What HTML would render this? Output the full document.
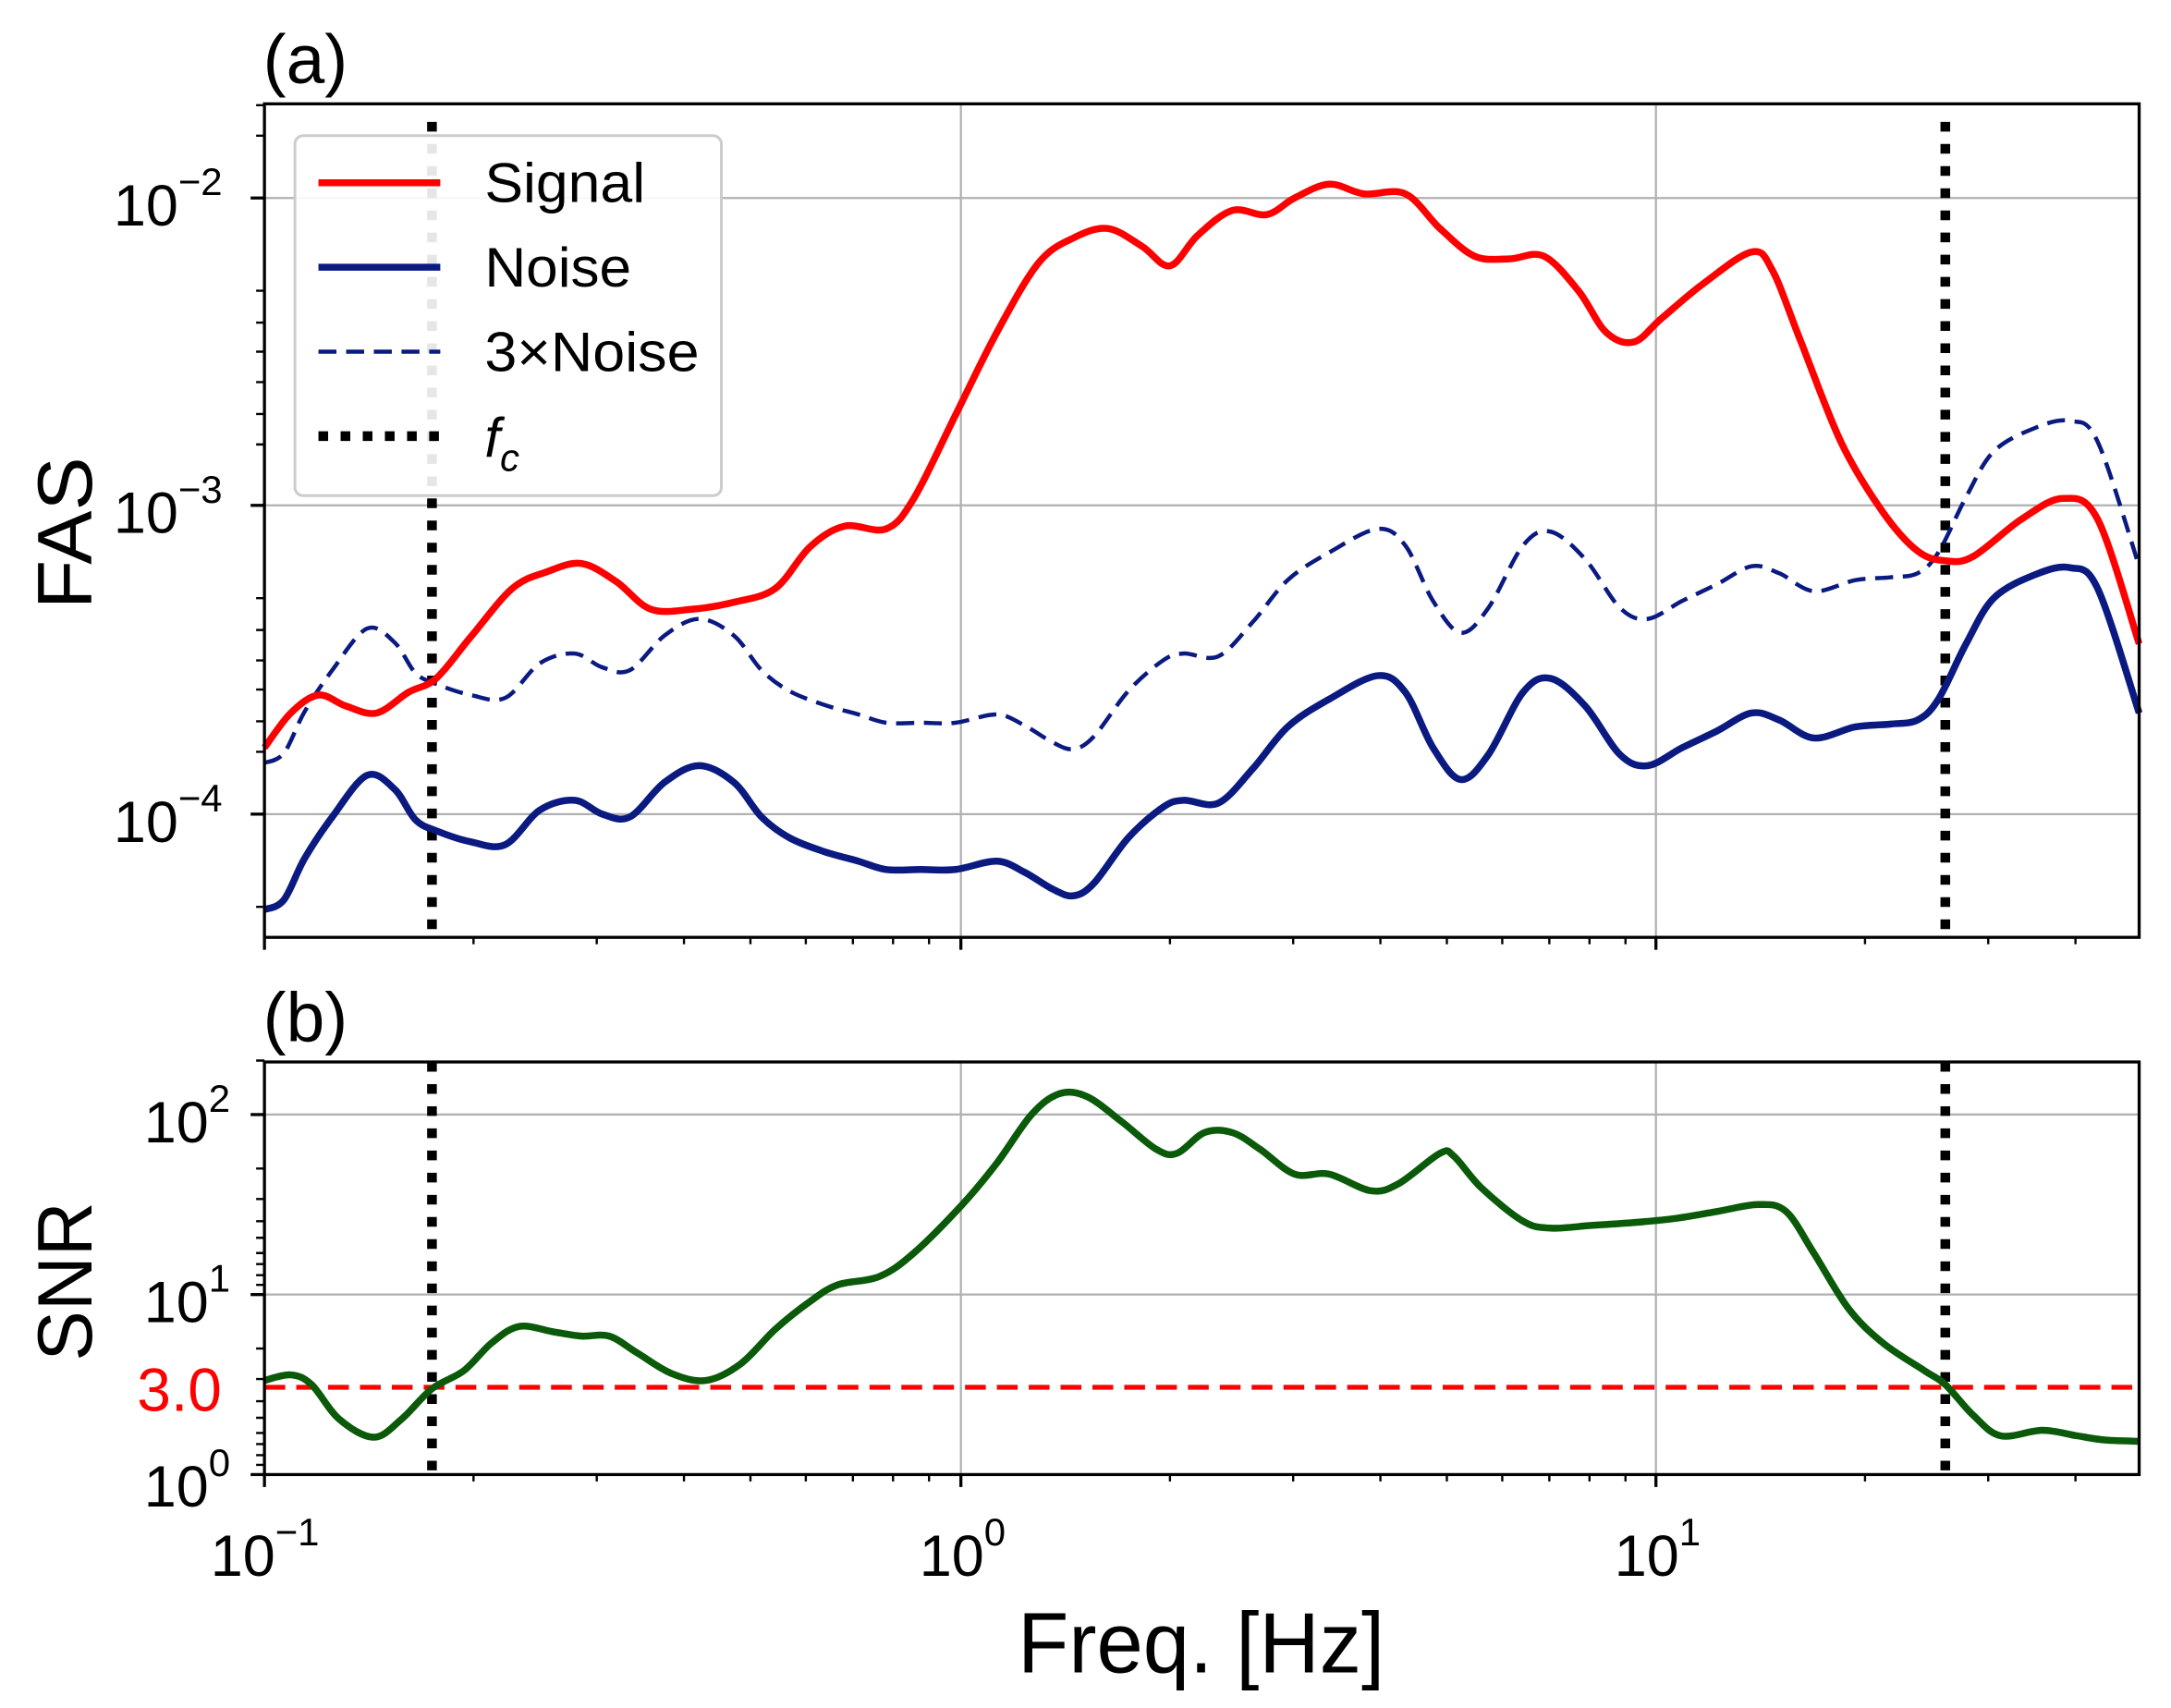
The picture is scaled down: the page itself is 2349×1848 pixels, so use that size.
<!DOCTYPE html>
<html><head><meta charset="utf-8"><style>html,body{margin:0;padding:0;background:#fff}svg{display:block}</style></head><body>
<svg id="s" width="2349" height="1848" viewBox="0 0 1568 1233.6" preserveAspectRatio="none" xmlns="http://www.w3.org/2000/svg" font-family="Liberation Sans, sans-serif">
<rect width="1568" height="1234" fill="#fff"/>
<g stroke="#b0b0b0" stroke-width="1.5">
<line x1="694" y1="75" x2="694" y2="677"/><line x1="1196" y1="75" x2="1196" y2="677"/>
<line x1="191" y1="143" x2="1545" y2="143"/><line x1="191" y1="365" x2="1545" y2="365"/><line x1="191" y1="588" x2="1545" y2="588"/>
<line x1="694" y1="767" x2="694" y2="1065"/><line x1="1196" y1="767" x2="1196" y2="1065"/>
<line x1="191" y1="805" x2="1545" y2="805"/><line x1="191" y1="935" x2="1545" y2="935"/>
</g>
<g stroke="#000" stroke-width="7" stroke-dasharray="7,9">
<line x1="312" y1="88" x2="312" y2="677"/><line x1="1405" y1="88" x2="1405" y2="677"/>
<line x1="312" y1="767" x2="312" y2="1065"/><line x1="1405" y1="767" x2="1405" y2="1065"/>
</g>
<polyline class="sm" transform="translate(0,-106)" fill="none" stroke="#0a1a80" stroke-width="3" stroke-dasharray="13,7" stroke-linejoin="round" points="191,657 205,650 220,620 240,590 265,560 285,570 300,592 315,600 340,608 365,610 390,585 415,578 435,588 455,590 480,565 505,553 530,565 550,590 570,605 595,615 620,622 640,628 665,628 690,628 720,622 740,630 760,642 775,647 790,638 815,605 840,583 855,578 880,580 905,555 930,525 960,505 995,488 1015,500 1035,540 1055,563 1075,545 1100,500 1120,490 1145,510 1170,545 1190,553 1215,540 1240,528 1265,515 1285,520 1310,533 1340,525 1365,523 1385,520 1400,505 1420,465 1440,432 1470,415 1495,410 1515,425 1545,515"/>
<polyline class="sm" fill="none" stroke="#0a1a80" stroke-width="5" stroke-linejoin="round" points="191,657 205,650 220,620 240,590 265,560 285,570 300,592 315,600 340,608 365,610 390,585 415,578 435,588 455,590 480,565 505,553 530,565 550,590 570,605 595,615 620,622 640,628 665,628 690,628 720,622 740,630 760,642 775,647 790,638 815,605 840,583 855,578 880,580 905,555 930,525 960,505 995,488 1015,500 1035,540 1055,563 1075,545 1100,500 1120,490 1145,510 1170,545 1190,553 1215,540 1240,528 1265,515 1285,520 1310,533 1340,525 1365,523 1385,520 1400,505 1420,465 1440,432 1470,415 1495,410 1515,425 1545,515"/>
<polyline class="sm" fill="none" stroke="#ff0000" stroke-width="5" stroke-linejoin="round" points="191,540 210,515 230,502 250,510 272,515 295,500 315,490 340,460 370,425 395,413 420,407 445,420 470,440 500,440 530,435 560,425 585,395 610,380 640,382 660,360 690,300 720,240 750,190 775,172 800,165 825,178 845,192 865,170 890,152 915,155 935,143 960,133 985,140 1015,140 1040,165 1065,185 1090,187 1115,185 1140,210 1160,240 1180,247 1200,230 1230,205 1265,182 1280,195 1300,245 1330,320 1360,370 1385,398 1405,405 1425,402 1460,375 1490,360 1515,375 1545,465"/>
<line x1="191" y1="1002" x2="1545" y2="1002" stroke="#ff0000" stroke-width="3.5" stroke-dasharray="15,8"/>
<polyline class="sm" fill="none" stroke="#0a5a0a" stroke-width="5" stroke-linejoin="round" points="191,997 210,993 225,1000 245,1025 270,1038 290,1025 312,1003 335,990 355,970 375,958 400,962 420,965 440,965 460,977 485,992 510,997 535,985 560,960 585,940 605,928 635,922 660,905 695,870 720,840 745,805 765,790 785,792 810,810 835,830 850,833 870,818 890,818 910,830 935,848 960,848 990,860 1010,855 1040,833 1050,835 1070,858 1100,882 1120,887 1150,885 1180,883 1210,880 1240,875 1270,870 1290,875 1310,905 1335,945 1360,970 1390,990 1405,1000 1425,1022 1445,1037 1475,1033 1500,1037 1520,1040 1545,1041"/>
<g fill="none" stroke="#000" stroke-width="2.2">
<rect x="191" y="75" width="1354" height="602"/>
<rect x="191" y="767" width="1354" height="298"/>
</g>
<g stroke="#000" stroke-width="2.2">
<line x1="191" y1="677" x2="191" y2="686"/><line x1="694" y1="677" x2="694" y2="686"/><line x1="1196" y1="677" x2="1196" y2="686"/>
<line x1="191" y1="1065" x2="191" y2="1074"/><line x1="694" y1="1065" x2="694" y2="1074"/><line x1="1196" y1="1065" x2="1196" y2="1074"/>
<line x1="181" y1="143" x2="191" y2="143"/><line x1="181" y1="365" x2="191" y2="365"/><line x1="181" y1="588" x2="191" y2="588"/>
<line x1="181" y1="805" x2="191" y2="805"/><line x1="181" y1="935" x2="191" y2="935"/><line x1="181" y1="1065" x2="191" y2="1065"/>
</g>
<g stroke="#000" stroke-width="1.6">
<path d="M342 677v5M431 677v5M494 677v5M542 677v5M582 677v5M616 677v5M645 677v5M671 677v5M845 677v5M934 677v5M997 677v5M1045 677v5M1085 677v5M1119 677v5M1148 677v5M1174 677v5M1347 677v5M1436 677v5M1499 677v5"/>
<path d="M342 1065v5M431 1065v5M494 1065v5M542 1065v5M582 1065v5M616 1065v5M645 1065v5M671 1065v5M845 1065v5M934 1065v5M997 1065v5M1045 1065v5M1085 1065v5M1119 1065v5M1148 1065v5M1174 1065v5M1347 1065v5M1436 1065v5M1499 1065v5"/>
<path d="M185 98h6M185 76h6M185 210h6M185 233h6M185 254h6M185 276h6M185 299h6M185 321h6M185 432h6M185 455h6M185 477h6M185 498h6M185 521h6M185 543h6M185 655h6"/>
<path d="M185 766h6M185 844h6M185 866h6M185 882h6M185 894h6M185 905h6M185 913h6M185 921h6M185 928h6M185 974h6M185 996h6M185 1012h6M185 1024h6M185 1035h6M185 1043h6M185 1051h6M185 1058h6"/>
</g>
<g font-size="42" fill="#000">
<text x="82" y="163">10<tspan font-size="28" dy="-22">−2</tspan></text>
<text x="82" y="385">10<tspan font-size="28" dy="-22">−3</tspan></text>
<text x="82" y="608">10<tspan font-size="28" dy="-22">−4</tspan></text>
<text x="104" y="825">10<tspan font-size="28" dy="-22">2</tspan></text>
<text x="104" y="955">10<tspan font-size="28" dy="-22">1</tspan></text>
<text x="104" y="1088">10<tspan font-size="28" dy="-22">0</tspan></text>
<text x="99" y="1019" fill="#ff0000" font-size="44">3.0</text>
<text x="152" y="1138">10<tspan font-size="28" dy="-22">−1</tspan></text>
<text x="664" y="1138">10<tspan font-size="28" dy="-22">0</tspan></text>
<text x="1166" y="1138">10<tspan font-size="28" dy="-22">1</tspan></text>
</g>
<text x="190" y="60" font-size="50">(a)</text>
<text x="190" y="752" font-size="50">(b)</text>
<text x="735" y="1208" font-size="62" textLength="265" lengthAdjust="spacingAndGlyphs">Freq. [Hz]</text>
<text transform="translate(66,440) rotate(-90)" font-size="56" textLength="110" lengthAdjust="spacingAndGlyphs">FAS</text>
<text transform="translate(66,983) rotate(-90)" font-size="56" textLength="115" lengthAdjust="spacingAndGlyphs">SNR</text>
<rect x="213" y="98" width="308" height="260" rx="6" fill="#fff" fill-opacity="0.9" stroke="#ccc" stroke-width="2"/>
<line x1="230" y1="132" x2="318" y2="132" stroke="#ff0000" stroke-width="5"/>
<line x1="230" y1="193" x2="318" y2="193" stroke="#0a1a80" stroke-width="5"/>
<line x1="230" y1="254" x2="318" y2="254" stroke="#0a1a80" stroke-width="3" stroke-dasharray="13,7"/>
<line x1="230" y1="315" x2="318" y2="315" stroke="#000" stroke-width="7" stroke-dasharray="7,9"/>
<g font-size="40" fill="#000">
<text x="350" y="146" textLength="116" lengthAdjust="spacingAndGlyphs">Signal</text>
<text x="350" y="207" textLength="106" lengthAdjust="spacingAndGlyphs">Noise</text>
<text x="350" y="268" textLength="155" lengthAdjust="spacingAndGlyphs">3×Noise</text>
<text x="350" y="330" font-style="italic">f<tspan font-size="28" dy="10">c</tspan></text>
</g>
</svg>
<script>
document.querySelectorAll('polyline.sm').forEach(function(pl){
 var p=pl.getAttribute('points').trim().split(/\s+/).map(function(s){return s.split(',').map(Number)});
 var d='M'+p[0][0]+' '+p[0][1];
 for(var i=0;i<p.length-1;i++){
  var p0=p[i-1]||p[i],p1=p[i],p2=p[i+1],p3=p[i+2]||p2;
  var c1=[p1[0]+(p2[0]-p0[0])/6,p1[1]+(p2[1]-p0[1])/6],c2=[p2[0]-(p3[0]-p1[0])/6,p2[1]-(p3[1]-p1[1])/6];
  d+=' C'+c1[0]+' '+c1[1]+' '+c2[0]+' '+c2[1]+' '+p2[0]+' '+p2[1];
 }
 var path=document.createElementNS('http://www.w3.org/2000/svg','path');
 for(var k=0;k<pl.attributes.length;k++){var a=pl.attributes[k];if(a.name!=='points'&&a.name!=='class')path.setAttribute(a.name,a.value);}
 path.setAttribute('d',d);pl.parentNode.replaceChild(path,pl);
});
</script>
</body></html>
